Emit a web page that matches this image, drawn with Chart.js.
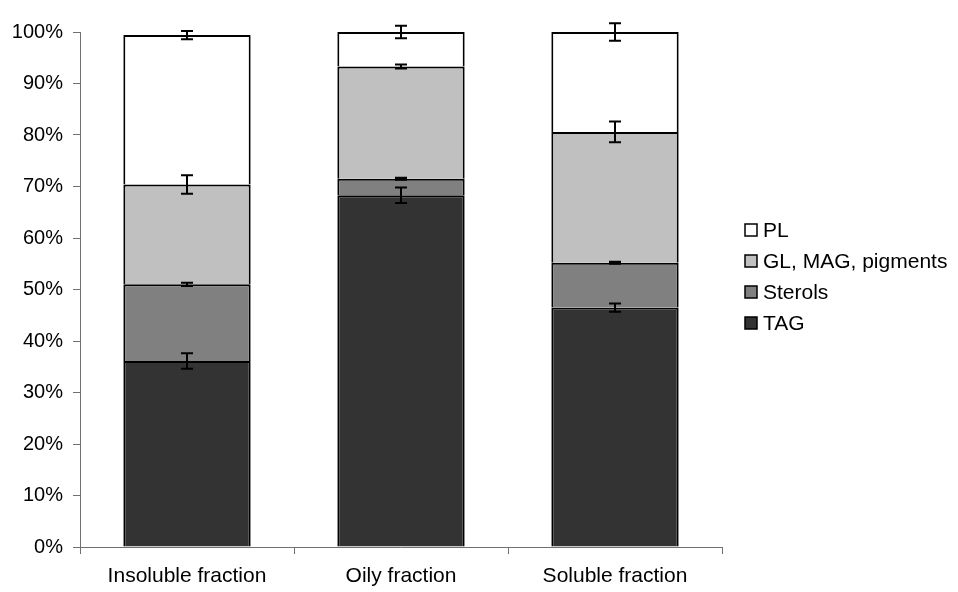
<!DOCTYPE html>
<html>
<head>
<meta charset="utf-8">
<script src="https://cdn.jsdelivr.net/npm/chart.js@4"></script>
<style>
  html, body { margin: 0; padding: 0; background: #fff; }
  #wrap { width: 958px; height: 592px; }
</style>
</head>
<body>
<div id="wrap"><canvas id="lipidChart" width="958" height="592"></canvas></div>
<script>
const categories = ['Insoluble fraction', 'Oily fraction', 'Soluble fraction'];

// stacked percentages, bottom to top
const tagValues = [36.1, 68.3, 46.5];
const sterolValues = [14.9, 3.2, 8.7];
const glValues = [19.4, 21.8, 25.4];
const plValues = [29.0, 6.7, 19.4];

// error bar half-widths (same units)
const tagErr = [1.5, 1.5, 0.8];
const sterolErr = [0.3, 0.2, 0.2];
const glErr = [1.8, 0.4, 2.0];
const plErr = [0.8, 1.2, 1.7];

const yTicks = [0, 10, 20, 30, 40, 50, 60, 70, 80, 90, 100];

const seriesNames = ['TAG', 'Sterols', 'GL, MAG, pigments', 'PL'];
const seriesColors = ['#333333', '#808080', '#c0c0c0', '#ffffff'];
const seriesData = [tagValues, sterolValues, glValues, plValues];
const seriesErr = [tagErr, sterolErr, glErr, plErr];

const FONT = 'Liberation Sans, Arial, sans-serif';
const axisColor = '#707070';

// whiskers at the top of each stacked segment
const errorBars = {
  id: 'errorBars',
  afterDatasetsDraw(chart) {
    const ctx = chart.ctx;
    const yScale = chart.scales.y;
    ctx.save();
    ctx.strokeStyle = '#000';
    ctx.lineWidth = 2;
    seriesData.forEach((vals, i) => {
      const meta = chart.getDatasetMeta(i);
      meta.data.forEach((bar, j) => {
        let cum = 0;
        for (let k = 0; k <= i; k++) cum += seriesData[k][j];
        const e = seriesErr[i][j];
        const yHi = yScale.getPixelForValue(cum + e);
        const yLo = yScale.getPixelForValue(cum - e);
        const x = bar.x;
        ctx.beginPath();
        ctx.moveTo(x, yHi); ctx.lineTo(x, yLo);
        ctx.moveTo(x - 6, yHi); ctx.lineTo(x + 6, yHi);
        ctx.moveTo(x - 6, yLo); ctx.lineTo(x + 6, yLo);
        ctx.stroke();
      });
    });
    ctx.restore();
  }
};

// legend on the right, top series first
const sideLegend = {
  id: 'sideLegend',
  afterDraw(chart) {
    const ctx = chart.ctx;
    ctx.save();
    ctx.font = '21px ' + FONT;
    ctx.textBaseline = 'middle';
    const x0 = chart.chartArea.right + 23;
    let y = 230;
    for (let i = seriesNames.length - 1; i >= 0; i--) {
      ctx.fillStyle = seriesColors[i];
      ctx.fillRect(x0, y - 6, 12, 12);
      ctx.strokeStyle = '#000';
      ctx.lineWidth = 1.5;
      ctx.strokeRect(x0, y - 6, 12, 12);
      ctx.fillStyle = '#000';
      ctx.fillText(seriesNames[i], x0 + 18, y + 1);
      y += 31;
    }
    ctx.restore();
  }
};

new Chart(document.getElementById('lipidChart').getContext('2d'), {
  type: 'bar',
  data: {
    labels: categories,
    datasets: seriesData.map((vals, i) => ({
      label: seriesNames[i],
      data: vals,
      backgroundColor: seriesColors[i],
      borderColor: '#000',
      borderWidth: 2,
      borderSkipped: 'bottom',
      categoryPercentage: 1,
      barPercentage: 0.595
    }))
  },
  options: {
    responsive: false,
    devicePixelRatio: 1,
    animation: false,
    layout: { padding: { top: 32, right: 236, left: 0, bottom: 0 } },
    plugins: {
      legend: { display: false },
      tooltip: { enabled: false }
    },
    scales: {
      x: {
        stacked: true,
        afterFit(scale) { scale.height = 45; },
        grid: { display: true, drawOnChartArea: false, drawTicks: true, tickLength: 7, color: axisColor, offset: true },
        border: { display: true, color: axisColor, width: 1 },
        ticks: { color: '#000', font: { family: FONT, size: 21 }, padding: 10 }
      },
      y: {
        stacked: true,
        min: 0,
        max: 100,
        afterFit(scale) { scale.width = 80; },
        afterBuildTicks(scale) { scale.ticks = yTicks.map(v => ({ value: v })); },
        grid: { display: true, drawOnChartArea: false, drawTicks: true, tickLength: 7, color: axisColor },
        border: { display: true, color: axisColor, width: 1 },
        ticks: {
          color: '#000',
          font: { family: FONT, size: 20 },
          padding: 10,
          callback: v => v + '%'
        }
      }
    }
  },
  plugins: [errorBars, sideLegend]
});
</script>
</body>
</html>
